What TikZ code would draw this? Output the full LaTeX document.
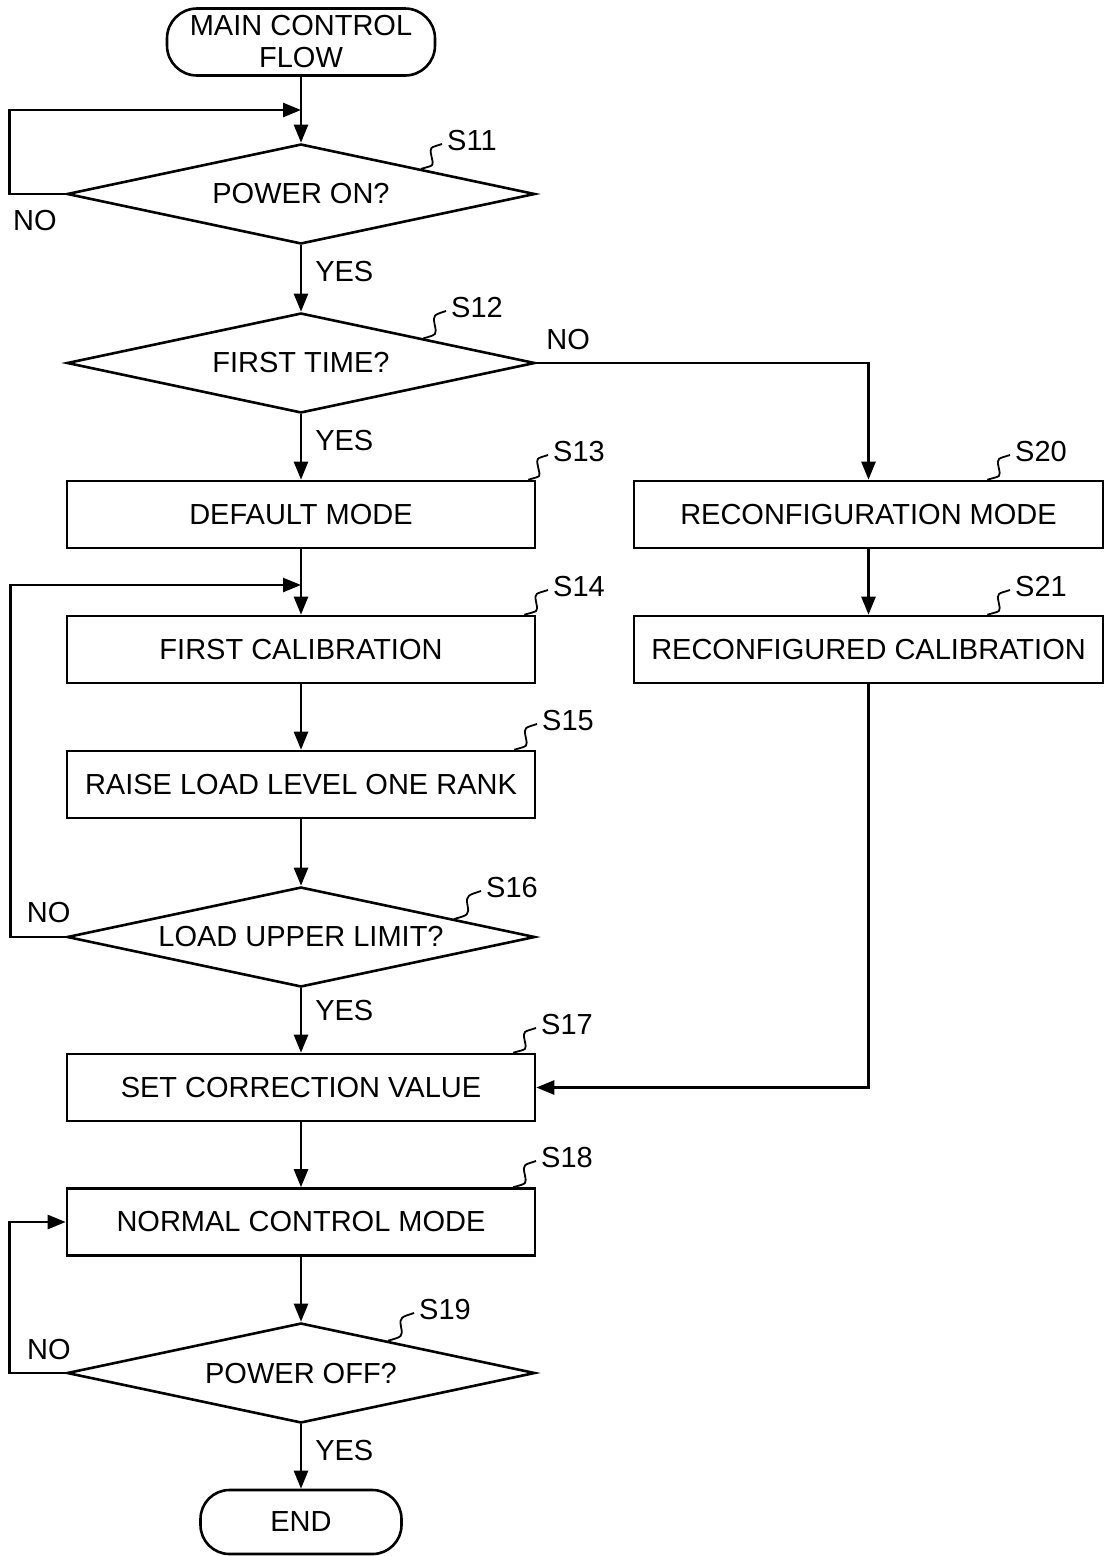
\documentclass[tikz,border=0pt]{standalone}
\usepackage{fontspec}
\setmainfont{Liberation Sans}
\usetikzlibrary{shapes.geometric,arrows.meta,calc}
\newcommand\mysquig[2]{\draw[squigline] (#1) .. controls +(14,-4) and +(2,10) .. ($(#1)!.5!(#2)$) .. controls +(-2,-10) and +(-12,4) .. (#2);}
\begin{document}
\begin{tikzpicture}[x=1pt,y=-1pt,
  every node/.style={font=\fontsize{29}{32}\selectfont},
  proc/.style={draw, line width=2.6pt, rectangle, minimum width=468pt, minimum height=67pt, inner sep=0pt},
  dec/.style={draw, line width=2.6pt, diamond, minimum width=468pt, minimum height=100pt, inner sep=0pt, shape aspect=4.68},
  term/.style={draw, line width=2.6pt, rectangle, rounded corners=30pt, inner sep=0pt, align=center},
  arr/.style={line width=2.6pt, -{Triangle[length=18pt,width=14pt]}},
  conn/.style={line width=2.6pt},
  squigline/.style={line width=1.8pt},
  lab/.style={inner sep=0pt},
  steplab/.style={inner sep=0pt, anchor=west},
]
\useasboundingbox (0,0) rectangle (1104,1556);

% nodes
\node[term, minimum width=268pt, minimum height=67pt] (start) at (301,42) {MAIN CONTROL\\FLOW};
\node[dec] (s11) at (301,194) {POWER ON?};
\node[dec] (s12) at (301,363) {FIRST TIME?};
\node[proc] (s13) at (301,514.5) {DEFAULT MODE};
\node[proc] (s14) at (301,649.5) {FIRST CALIBRATION};
\node[proc] (s15) at (301,784.5) {RAISE LOAD LEVEL ONE RANK};
\node[dec] (s16) at (301,937) {LOAD UPPER LIMIT?};
\node[proc] (s17) at (301,1087.5) {SET CORRECTION VALUE};
\node[proc] (s18) at (301,1222) {NORMAL CONTROL MODE};
\node[dec] (s19) at (301,1373) {POWER OFF?};
\node[term, minimum width=201pt, minimum height=64pt, rounded corners=29pt] (end) at (301,1522) {END};
\node[proc, minimum width=469pt] (s20) at (868.5,514.5) {RECONFIGURATION MODE};
\node[proc, minimum width=469pt] (s21) at (868.5,649.5) {RECONFIGURED CALIBRATION};

% junction points
\coordinate (j1) at (301,110);
\coordinate (j2) at (301,585);

% connectors
\draw[arr] (start.south) -- (s11.north);
\draw[arr] (s11.west) -- node[lab, pos=0.55, below=15pt] {NO} ++(-56,0) |- (j1);
\draw[arr] (s11.south) -- node[lab, pos=0.4, anchor=west, xshift=13pt] {YES} (s12.north);
\draw[arr] (s12.east) -| node[lab, pos=0.048, above=12pt] {NO} (s20.north);
\draw[arr] (s12.south) -- node[lab, pos=0.4, anchor=west, xshift=13pt] {YES} (s13.north);
\draw[arr] (s13.south) -- (s14.north);
\draw[arr] (s14.south) -- (s15.north);
\draw[arr] (s15.south) -- (s16.north);
\draw[arr] (s16.west) -- node[lab, pos=0.31, above=13pt] {NO} ++(-55,0) |- (j2);
\draw[arr] (s16.south) -- node[lab, pos=0.35, anchor=west, xshift=13pt] {YES} (s17.north);
\draw[arr] (s17.south) -- (s18.north);
\draw[arr] (s18.south) -- (s19.north);
\draw[arr] (s19.west) -- node[lab, pos=0.3, above=12pt] {NO} ++(-56,0) |- (s18.west);
\draw[arr] (s19.south) -- node[lab, pos=0.4, anchor=west, xshift=13pt] {YES} (end.north);
\draw[arr] (s20.south) -- (s21.north);
\draw[arr] (s21.south) |- (s17.east);

% step labels
\node[steplab] (l11) at (447,141) {S11};
\node[steplab] (l12) at (451,308) {S12};
\node[steplab] (l13) at (553,452) {S13};
\node[steplab] (l14) at (553,587) {S14};
\node[steplab] (l15) at (542,721) {S15};
\node[steplab] (l16) at (486,888) {S16};
\node[steplab] (l17) at (541,1025) {S17};
\node[steplab] (l18) at (541,1158) {S18};
\node[steplab] (l19) at (419,1310) {S19};
\node[steplab] (l20) at (1015,452) {S20};
\node[steplab] (l21) at (1015,587) {S21};

\coordinate (a11) at ($(s11.north)!0.51!(s11.east)$);
\coordinate (a12) at ($(s12.north)!0.52!(s12.east)$);
\coordinate (a13) at ($(s13.north east)+(-8,0)$);
\coordinate (a14) at ($(s14.north east)+(-12,0)$);
\coordinate (a15) at ($(s15.north east)+(-22,0)$);
\coordinate (a16) at ($(s16.north)!0.65!(s16.east)$);
\coordinate (a17) at ($(s17.north east)+(-23,0)$);
\coordinate (a18) at ($(s18.north east)+(-23,0)$);
\coordinate (a19) at ($(s19.north)!0.37!(s19.east)$);
\coordinate (a20) at ($(s20.north east)+(-117,0)$);
\coordinate (a21) at ($(s21.north east)+(-117,0)$);
\foreach \k in {11,...,21}{
  \coordinate (b\k) at ($(l\k.west)+(-5,3)$);
  \mysquig{a\k}{b\k}
}
\end{tikzpicture}
\end{document}
